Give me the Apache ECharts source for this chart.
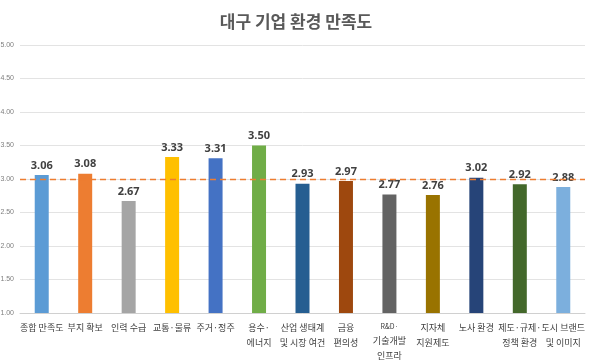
<!DOCTYPE html>
<html><head><meta charset="utf-8">
<script src="https://cdn.jsdelivr.net/npm/echarts@6/dist/echarts.min.js"></script>
<style>html,body{margin:0;padding:0;background:#fff}#c{width:592px;height:361px}</style>
</head><body><div id="c"></div>
<script>
const categories = ["종합 만족도","부지 확보","인력 수급","교통·물류","주거·정주","용수·\n에너지","산업 생태계\n및 시장 여건","금융\n편의성","R&D·\n기술개발\n인프라","지자체\n지원제도","노사 환경","제도·규제·\n정책 환경","도시 브랜드\n및 이미지"];
const values = [3.06,3.08,2.67,3.33,3.31,3.50,2.93,2.97,2.77,2.76,3.02,2.92,2.88];
const colors = ["#5B9BD5","#ED7D31","#A5A5A5","#FFC000","#4472C4","#70AD47","#255E91","#9E480E","#636363","#997300","#264478","#43682B","#7CAFDD"];
const referenceValue = 3.0;
const yTicks = {min:1, max:5, interval:0.5};

const chart = echarts.init(document.getElementById('c'));
chart.setOption({
  animation:false,
  title:{text:"대구 기업 환경 만족도", left:'center', top:8,
    textStyle:{fontFamily:"Noto Sans CJK KR", fontSize:17, fontWeight:'bold', color:'#595959'}},
  grid:{left:20, right:7, top:45, bottom:48, containLabel:false, outerBoundsMode:'none'},
  xAxis:{type:'category', data:categories,
    axisLine:{lineStyle:{color:'#d0d0d0'}}, axisTick:{show:false},
    axisLabel:{interval:0, fontFamily:"Noto Sans CJK KR", fontSize:9, color:'#404040', lineHeight:15, margin:7,
      formatter:v=>v.startsWith('R&D') ? v.replace('R&D·','{s|R&D·}') : v,
      rich:{s:{fontFamily:"Noto Sans CJK KR", fontSize:7, color:'#404040', lineHeight:13}}}},
  yAxis:{type:'value', min:yTicks.min, max:yTicks.max, interval:yTicks.interval,
    axisLabel:{formatter:v=>v.toFixed(2), fontFamily:"Liberation Sans", fontSize:7, color:'#7f7f7f', margin:6},
    axisLine:{show:false}, axisTick:{show:false},
    splitLine:{lineStyle:{color:'#e3e3e3'}}},
  series:[{
    type:'bar', barWidth:14,
    data: values.map((v,i)=>({value:v, itemStyle:{color:colors[i]}})),
    label:{show:true, position:'top', formatter:p=>p.value.toFixed(2),
      fontFamily:"Noto Sans", fontSize:11, fontWeight:'bold', color:'#404040', distance:4},
    markLine:{symbol:'none', silent:true, label:{show:false},
      lineStyle:{type:[6,4], color:'#ED7D31', width:1.3},
      data:[{yAxis:referenceValue}]}
  }]
});
</script></body></html>
